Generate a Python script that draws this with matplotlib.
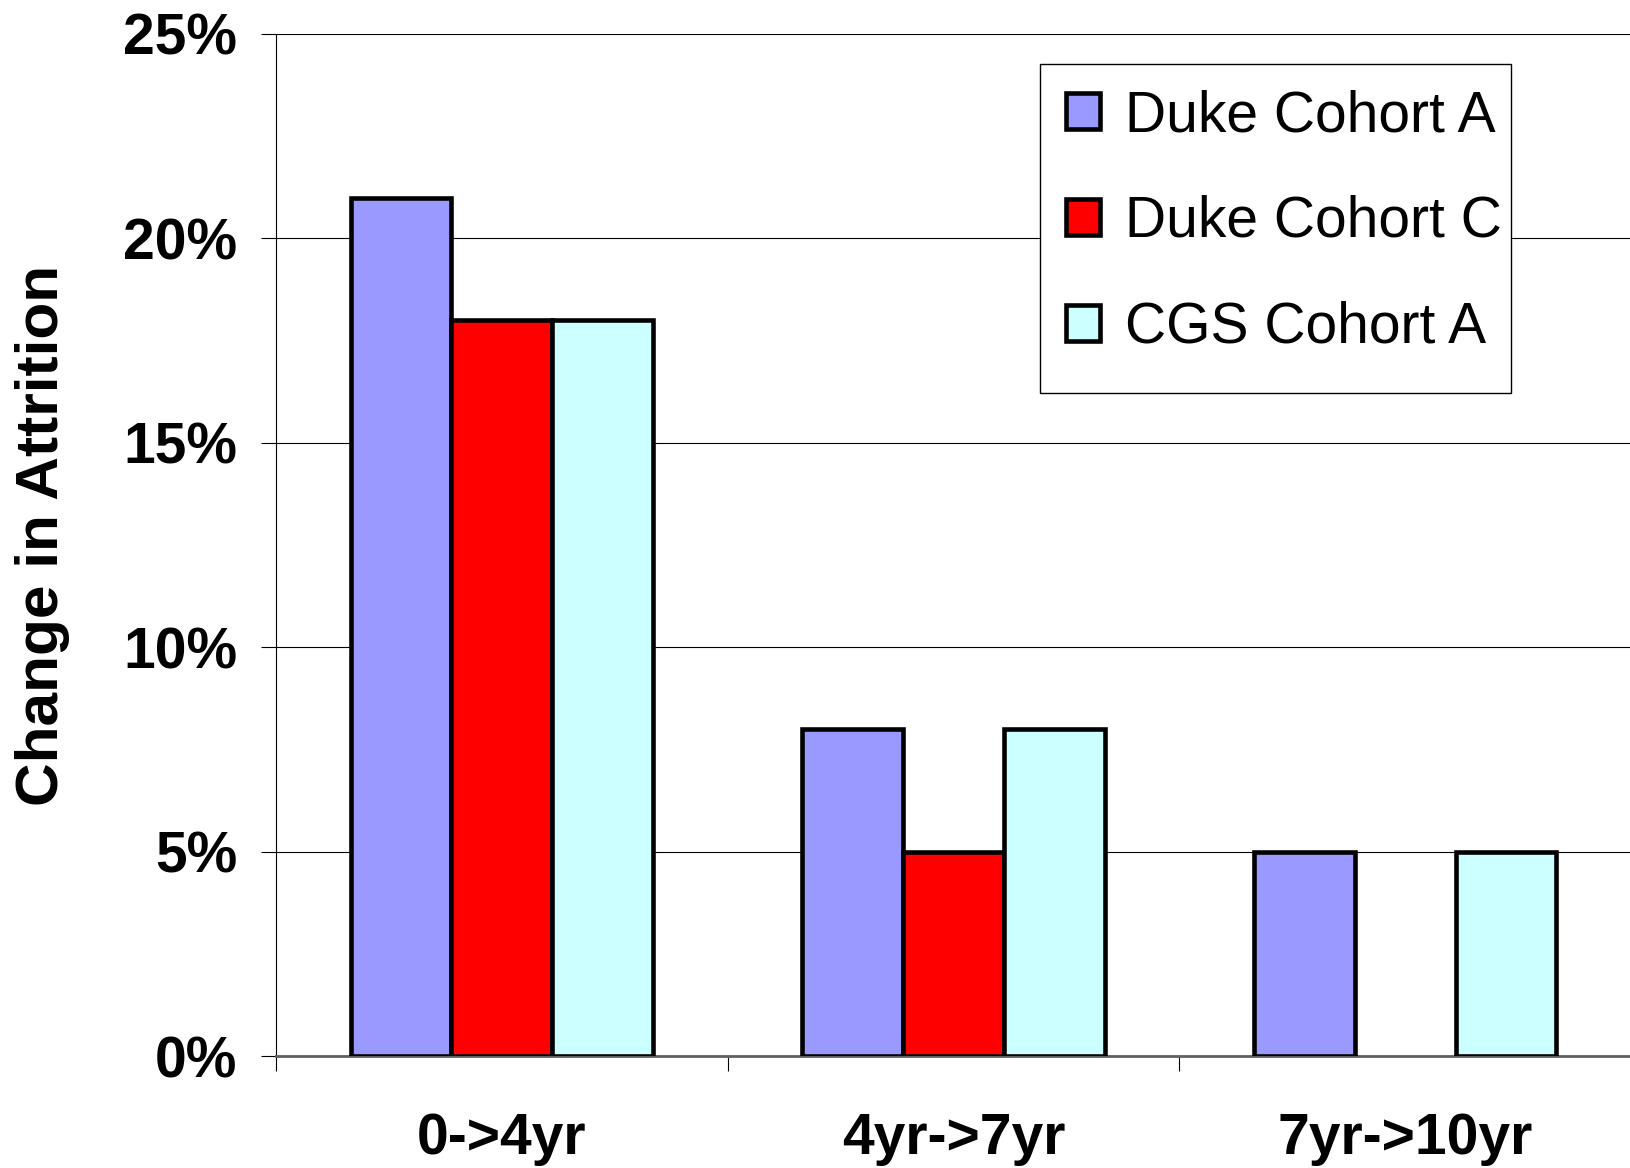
import numpy as np
import matplotlib
matplotlib.use("Agg")
import matplotlib.pyplot as plt
from matplotlib.patches import Rectangle
from matplotlib.ticker import PercentFormatter

plt.rcParams['font.family'] = ['Liberation Sans', 'DejaVu Sans']

# data
periods = ['0->4yr', '4yr->7yr', '7yr->10yr']
series_names = ['Duke Cohort A', 'Duke Cohort C', 'CGS Cohort A']
duke_a = [21, 8, 5]
duke_c = [18, 5, np.nan]   # no bar in last period
cgs_a = [18, 8, 5]
colors = ['#9999FF', '#FF0000', '#CCFFFF']

W, H = 1631, 1168
fig = plt.figure(figsize=(W / 100, H / 100), dpi=100)
ax = fig.add_axes([276 / W, 1 - 1056 / H, 1 - 276 / W, (1056 - 34) / H])

x = np.arange(len(periods))
w = 0.223
for i, (vals, name, col) in enumerate(zip([duke_a, duke_c, cgs_a], series_names, colors)):
    ax.bar(x + (i - 1) * w, vals, width=w, color=col, edgecolor='black',
           linewidth=3.3, label=name, zorder=3)

ax.set_xlim(-0.5, 2.5)
ax.set_ylim(0, 25)
ax.set_yticks([0, 5, 10, 15, 20, 25])
ax.yaxis.set_major_formatter(PercentFormatter(decimals=0))
ax.grid(axis='y', color='black', linewidth=0.8, zorder=0)

# category labels at centres, ticks at the boundaries
ax.set_xticks(x)
ax.set_xticklabels(periods)
ax.set_xticks([-0.5, 0.5, 1.5], minor=True)
ax.tick_params(axis='x', which='major', length=0, pad=40, labelsize=41)
ax.tick_params(axis='x', which='minor', length=11, width=0.8, direction='out')
ax.tick_params(axis='y', length=11, width=0.8, direction='out', pad=17, labelsize=41)
for lab in ax.get_xticklabels() + ax.get_yticklabels():
    lab.set_fontweight('bold')

ax.spines['top'].set_visible(False)
ax.spines['right'].set_visible(False)
ax.spines['left'].set_linewidth(0.8)
ax.spines['bottom'].set_color('#606060')
ax.spines['bottom'].set_linewidth(2)

ax.set_ylabel('Change in Attrition', fontsize=43.5, fontweight='bold')
ax.yaxis.set_label_coords(-0.152, 0.509)

# legend box drawn separately so its size matches
box = Rectangle((1040 / W, 1 - 393 / H), (1511 - 1040) / W, (393 - 64) / H,
                transform=fig.transFigure, facecolor='white', edgecolor='black',
                linewidth=1, zorder=4, clip_on=False)
ax.add_patch(box)
leg = ax.legend(loc='upper left', bbox_to_anchor=(1049 / W, 1 - 72 / H),
                bbox_transform=fig.transFigure, fontsize=41, frameon=False,
                handlelength=0.6, handleheight=0.6, handletextpad=0.44,
                labelspacing=0.91, borderpad=0.3, borderaxespad=0)
leg.set_zorder(5)

fig.savefig('out.png', dpi=100)
